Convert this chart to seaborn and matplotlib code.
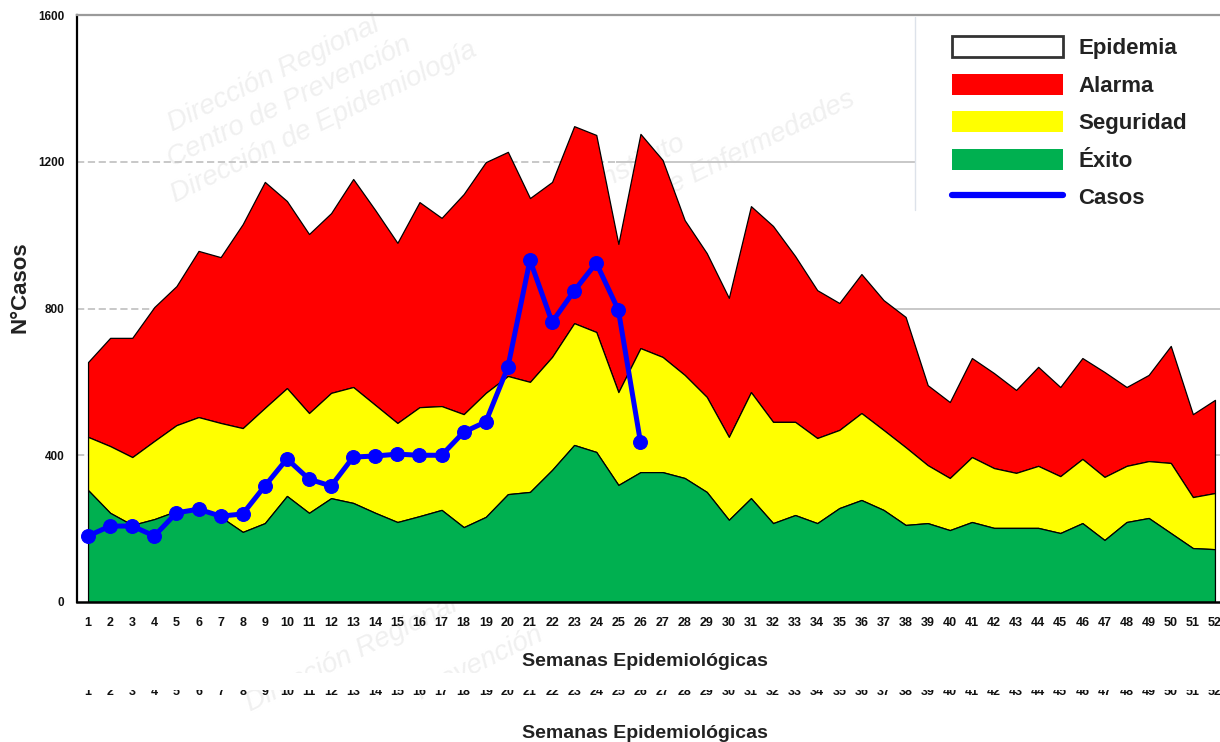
import matplotlib
matplotlib.use("Agg")
import matplotlib.pyplot as plt
import seaborn as sns
from matplotlib.patches import Patch, Rectangle
from matplotlib.lines import Line2D

# canal endemico: limites superiores de cada zona por semana
semanas = list(range(1, 53))
exito = [305, 243, 210, 226, 248, 256, 232, 191, 215, 289, 243, 283, 270, 243, 218, 234,
         251, 204, 232, 294, 300, 360, 428, 409, 319, 354, 354, 338, 300, 224, 283, 215,
         237, 215, 256, 278, 251, 210, 215, 196, 218, 202, 202, 202, 188, 215, 169, 218,
         229, 188, 147, 144]
seguridad = [450, 425, 395, 439, 482, 504, 488, 474, 529, 583, 515, 570, 586, 537, 488, 531,
             534, 512, 570, 616, 600, 668, 760, 736, 572, 692, 668, 619, 559, 450, 572, 491,
             491, 447, 469, 515, 469, 422, 373, 338, 395, 365, 352, 371, 343, 390, 341, 371,
             384, 379, 286, 297]
alarma = [654, 720, 720, 804, 861, 957, 940, 1030, 1145, 1093, 1003, 1060, 1153, 1068, 979, 1090,
          1047, 1112, 1199, 1227, 1101, 1145, 1297, 1273, 976, 1276, 1205, 1041, 951, 829, 1079, 1025,
          943, 850, 815, 894, 823, 777, 591, 545, 665, 624, 578, 641, 586, 665, 627, 586,
          619, 698, 512, 551]
semanas_casos = list(range(1, 27))
casos = [180, 207, 207, 180, 243, 253, 234, 240, 316, 390, 335, 316, 395, 398, 403, 400,
         400, 463, 491, 640, 932, 763, 848, 924, 796, 436]

W, H = 1220, 742
sns.set_style("white")
plt.rcParams['font.family'] = ['Liberation Sans', 'DejaVu Sans']

fig = plt.figure(figsize=(W / 100, H / 100), dpi=100)
ax_l, ax_r, ax_t, ax_b = 77, 1226, 15, 602
ax = fig.add_axes([ax_l / W, 1 - ax_b / H, (ax_r - ax_l) / W, (ax_b - ax_t) / H])

def fx(px):
    return px / W

def fy(py):
    return 1 - py / H

# marca de agua
wm = dict(color='#f0f0f0', fontsize=20, style='italic', rotation=26,
          rotation_mode='anchor', ha='left', va='baseline', transform=fig.transFigure, zorder=0.5)
for txt, px, py in [("Dirección Regional", 172, 132),
                    ("Centro de Prevención", 172, 167),
                    ("Dirección de Epidemiología", 175, 203),
                    ("Instituto", 600, 190),
                    ("de Enfermedades", 660, 200),
                    ("Dirección Regional", 250, 712),
                    ("Prevención", 420, 700)]:
    ax.text(fx(px), fy(py), txt, clip_on=False, **wm)

# rejilla: discontinua a la izquierda, continua a la derecha
for v in [400, 800, 1200]:
    ax.hlines(v, 0.5, 24.9, colors='#c4c4c4', linestyles=(0, (4, 2)), linewidth=1.3, zorder=0.8)
    ax.hlines(v, 24.9, 52.5, colors='#c4c4c4', linestyles='solid', linewidth=1.3, zorder=0.8)

# zonas del canal endemico
ax.fill_between(semanas, 0, exito, facecolor='#00b050', edgecolor='black', linewidth=0.9, zorder=1.5)
ax.fill_between(semanas, exito, seguridad, facecolor='#ffff00', edgecolor='black', linewidth=0.9, zorder=1.4)
ax.fill_between(semanas, seguridad, alarma, facecolor='#ff0000', edgecolor='black', linewidth=0.9, zorder=1.3)

# casos
sns.lineplot(x=semanas_casos, y=casos, ax=ax, color='#0000ff', linewidth=3.6, marker='o',
             markersize=10, markeredgecolor='#0000ff', zorder=4)

ax.set_xlim(0.5, 52.5)
ax.set_ylim(0, 1600)
ax.set_yticks([0, 400, 800, 1200, 1600])
ax.set_xticks(semanas)
ax.set_xticks([s + 0.5 for s in range(0, 53)], minor=True)
ax.tick_params(axis='x', which='major', length=0, pad=11, labelsize=9)
ax.tick_params(axis='x', which='minor', length=5, width=1.5, direction='out', color='black')
ax.tick_params(axis='y', which='major', length=5, width=1.5, direction='out', color='black',
               labelsize=8.5, pad=4)
for lab in ax.get_xticklabels() + ax.get_yticklabels():
    lab.set_fontweight('bold')
    lab.set_color('#111111')

ax.spines['left'].set_color('black')
ax.spines['left'].set_linewidth(1.6)
ax.spines['bottom'].set_color('black')
ax.spines['bottom'].set_linewidth(1.8)
ax.spines['top'].set_color('#9a9a9a')
ax.spines['top'].set_linewidth(1.6)
ax.spines['right'].set_visible(False)

ax.set_xlabel("Semanas Epidemiológicas", fontsize=14, fontweight='bold', color='#222222')
ax.xaxis.label.set_va('center')
ax.xaxis.set_label_coords((645 - ax_l) / (ax_r - ax_l), (ax_b - 662) / (ax_b - ax_t))
ax.set_ylabel("N°Casos", fontsize=16, fontweight='bold', color='#222222')
ax.yaxis.label.set_va('center')
ax.yaxis.set_label_coords((20 - ax_l) / (ax_r - ax_l), (ax_b - 287) / (ax_b - ax_t))

# copia recortada del eje inferior (captura superpuesta)
for s in semanas:
    ax.text(s, (ax_b - 692) / (ax_b - ax_t), str(s), transform=ax.get_xaxis_transform(),
            ha='center', va='center', fontsize=9, fontweight='bold', color='#111111', clip_on=False)
ax.add_patch(Rectangle((0, fy(690)), 1, fy(673) - fy(690), transform=fig.transFigure,
                       facecolor='white', edgecolor='none', zorder=10, clip_on=False))
fig.text(fx(645), fy(733), "Semanas Epidemiológicas", ha='center', va='center',
         fontsize=14, fontweight='bold', color='#222222')

# caja blanca de la leyenda
ax.add_patch(Rectangle((fx(915), fy(210)), 0.3, fy(17) - fy(210), transform=fig.transFigure,
                       facecolor='white', edgecolor='none', zorder=3, clip_on=False))
ax.add_line(Line2D([fx(915), fx(915)], [fy(210), fy(17)], transform=fig.transFigure,
                   color='#dde2ea', linewidth=1, zorder=3.1, clip_on=False))

handles = [Patch(facecolor='white', edgecolor='#333333', linewidth=2),
           Patch(facecolor='#ff0000', edgecolor='none'),
           Patch(facecolor='#ffff00', edgecolor='none'),
           Patch(facecolor='#00b050', edgecolor='none'),
           Line2D([0], [0], color='#0000ff', linewidth=4.5)]
labels = ["Epidemia", "Alarma", "Seguridad", "Éxito", "Casos"]
leg = ax.legend(handles, labels, loc='upper left', bbox_to_anchor=(fx(952), fy(36)),
                bbox_transform=fig.transFigure, frameon=False, borderpad=0, borderaxespad=0,
                handlelength=5.0, handleheight=1.08, handletextpad=0.68, labelspacing=0.65,
                prop={'size': 16, 'weight': 'bold'})
for t in leg.get_texts():
    t.set_color('#222222')
leg.set_zorder(5)

fig.savefig("out.png", dpi=100)
